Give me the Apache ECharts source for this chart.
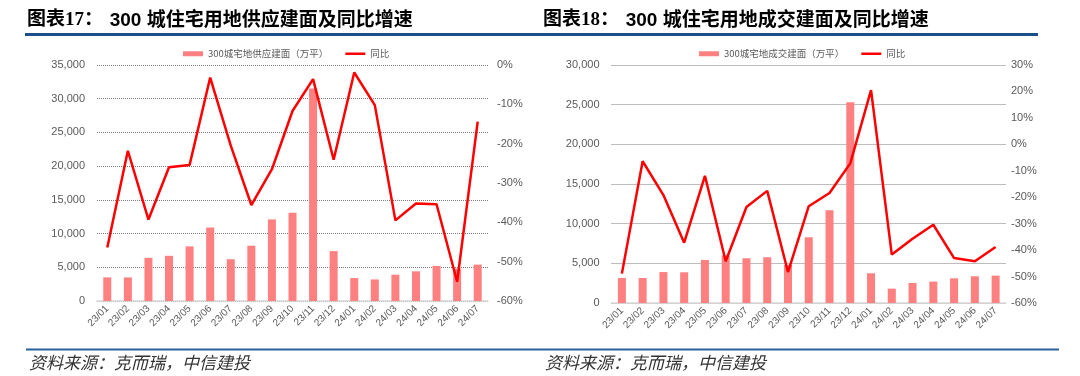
<!DOCTYPE html>
<html>
<head>
<meta charset="utf-8">
<script src="https://cdn.jsdelivr.net/npm/echarts@6/dist/echarts.min.js"></script>
<style>
html, body { margin: 0; padding: 0; background: #fff; }
#main { width: 1080px; height: 376px; }
</style>
</head>
<body>
<div id="main"></div>
<script>
// 月份
var months = ['23/01', '23/02', '23/03', '23/04', '23/05', '23/06', '23/07', '23/08', '23/09', '23/10',
    '23/11', '23/12', '24/01', '24/02', '24/03', '24/04', '24/05', '24/06', '24/07'];

// 图表17：供应建面（万平）及同比（%）
var supplyArea = [3500, 3500, 6400, 6700, 8100, 10900, 6200, 8200, 12100, 13100,
    31500, 7400, 3400, 3200, 3900, 4400, 5200, 4800, 5400];
var supplyYoy = [-46.4, -21.8, -39.3, -26.0, -25.4, -3.2, -20.5, -35.6, -26.5, -11.7,
    -3.6, -24.1, -1.9, -10.2, -39.5, -35.2, -35.4, -55.1, -14.4];

// 图表18：成交建面（万平）及同比（%）
var dealArea = [3150, 3150, 3900, 3870, 5430, 6000, 5640, 5770, 4800, 8290,
    11700, 25300, 3750, 1810, 2530, 2700, 3110, 3370, 3450];
var dealYoy = [-48.9, -6.4, -19.2, -37.2, -11.9, -44.2, -23.7, -17.6, -48.3, -23.4,
    -18.4, -7.2, 20.5, -41.7, -35.7, -30.4, -43.0, -44.2, -38.8];

var supplyName = '300城宅地供应建面（万平）';
var dealName = '300城宅地成交建面（万平）';

var axisGray = '#595959';
var barColor = '#ff8080';
var lineColor = '#ff0000';

function catAxis(gridIndex) {
    return {
        type: 'category',
        gridIndex: gridIndex,
        data: months,
        axisLine: { lineStyle: { color: '#d9d9d9', width: 1.5 } },
        axisTick: { show: false },
        axisLabel: { interval: 0, rotate: 45, fontSize: 10, color: axisGray, margin: 6 }
    };
}

function areaAxis(gridIndex, max) {
    return {
        type: 'value',
        gridIndex: gridIndex,
        min: 0,
        max: max,
        interval: 5000,
        position: 'left',
        axisLine: { show: false },
        axisTick: { show: false },
        axisLabel: { fontSize: 11, color: axisGray, margin: 12 },
        splitLine: { lineStyle: { color: '#7a7a7a', type: [1, 1], width: 1 } }
    };
}

function yoyAxis(gridIndex, min, max, margin) {
    return {
        type: 'value',
        gridIndex: gridIndex,
        min: min,
        max: max,
        interval: 10,
        position: 'right',
        axisLine: { show: false },
        axisTick: { show: false },
        splitLine: { show: false },
        axisLabel: { fontSize: 11, color: axisGray, margin: margin, formatter: '{value}%' }
    };
}

function legendOf(left, barName) {
    return {
        left: left,
        top: 44,
        itemWidth: 20,
        itemHeight: 5,
        itemGap: 17,
        textStyle: { fontSize: 9.5, color: axisGray, fontFamily: 'Noto Sans CJK SC' },
        data: [
            { name: barName, icon: 'rect' },
            { name: '同比', icon: 'path://M0,0 L20,0 L20,2.5 L0,2.5 Z' }
        ]
    };
}

var titleRich = {
    a: { fontSize: 19, fontWeight: 'bold', fontFamily: 'Liberation Serif, Noto Sans CJK SC', fill: '#000' },
    b: { fontSize: 19, fontWeight: 'bold', fontFamily: 'Liberation Sans, Noto Sans CJK SC', fill: '#000' }
};

var sourceStyle = {
    text: '资料来源：克而瑞，中信建投',
    fontSize: 17,
    fontStyle: 'italic',
    fill: '#333',
    fontFamily: 'Noto Sans CJK SC'
};

var chart = echarts.init(document.getElementById('main'));

var option = {
    animation: false,
    textStyle: { fontFamily: 'Liberation Sans, Arial, Noto Sans CJK SC' },
    grid: [
        { left: 97, top: 65, width: 391, height: 236 },
        { left: 611.5, top: 65, width: 394.5, height: 238 }
    ],
    legend: [legendOf(178, supplyName), legendOf(694, dealName)],
    xAxis: [catAxis(0), catAxis(1)],
    yAxis: [
        areaAxis(0, 35000),
        yoyAxis(0, -60, 0, 9),
        areaAxis(1, 30000),
        yoyAxis(1, -60, 30, 5)
    ],
    series: [
        {
            name: supplyName, type: 'bar', xAxisIndex: 0, yAxisIndex: 0,
            barWidth: 8, itemStyle: { color: barColor }, data: supplyArea
        },
        {
            name: '同比', type: 'line', xAxisIndex: 0, yAxisIndex: 1, symbol: 'none',
            lineStyle: { color: lineColor, width: 2.5 }, itemStyle: { color: lineColor }, data: supplyYoy
        },
        {
            name: dealName, type: 'bar', xAxisIndex: 1, yAxisIndex: 2,
            barWidth: 8, itemStyle: { color: barColor }, data: dealArea
        },
        {
            name: '同比', type: 'line', xAxisIndex: 1, yAxisIndex: 3, symbol: 'none',
            lineStyle: { color: lineColor, width: 2.5 }, itemStyle: { color: lineColor }, data: dealYoy
        }
    ],
    graphic: [
        // 标题
        {
            type: 'text', left: 27, top: 11,
            style: { text: '{a|图表17：}  {b|300 城住宅用地供应建面及同比增速}', rich: titleRich }
        },
        {
            type: 'text', left: 543, top: 11,
            style: { text: '{a|图表18：}  {b|300 城住宅用地成交建面及同比增速}', rich: titleRich }
        },
        // 标题下方蓝线
        { type: 'rect', shape: { x: 25, y: 33, width: 1013, height: 3 }, style: { fill: '#1c4f87' } },
        // 底部蓝线
        { type: 'rect', shape: { x: 26, y: 348.5, width: 1033, height: 2 }, style: { fill: '#2a6099' } },
        // 资料来源
        { type: 'text', left: 29, top: 354, style: sourceStyle },
        { type: 'text', left: 545, top: 354, style: sourceStyle }
    ]
};

chart.setOption(option);
</script>
</body>
</html>
